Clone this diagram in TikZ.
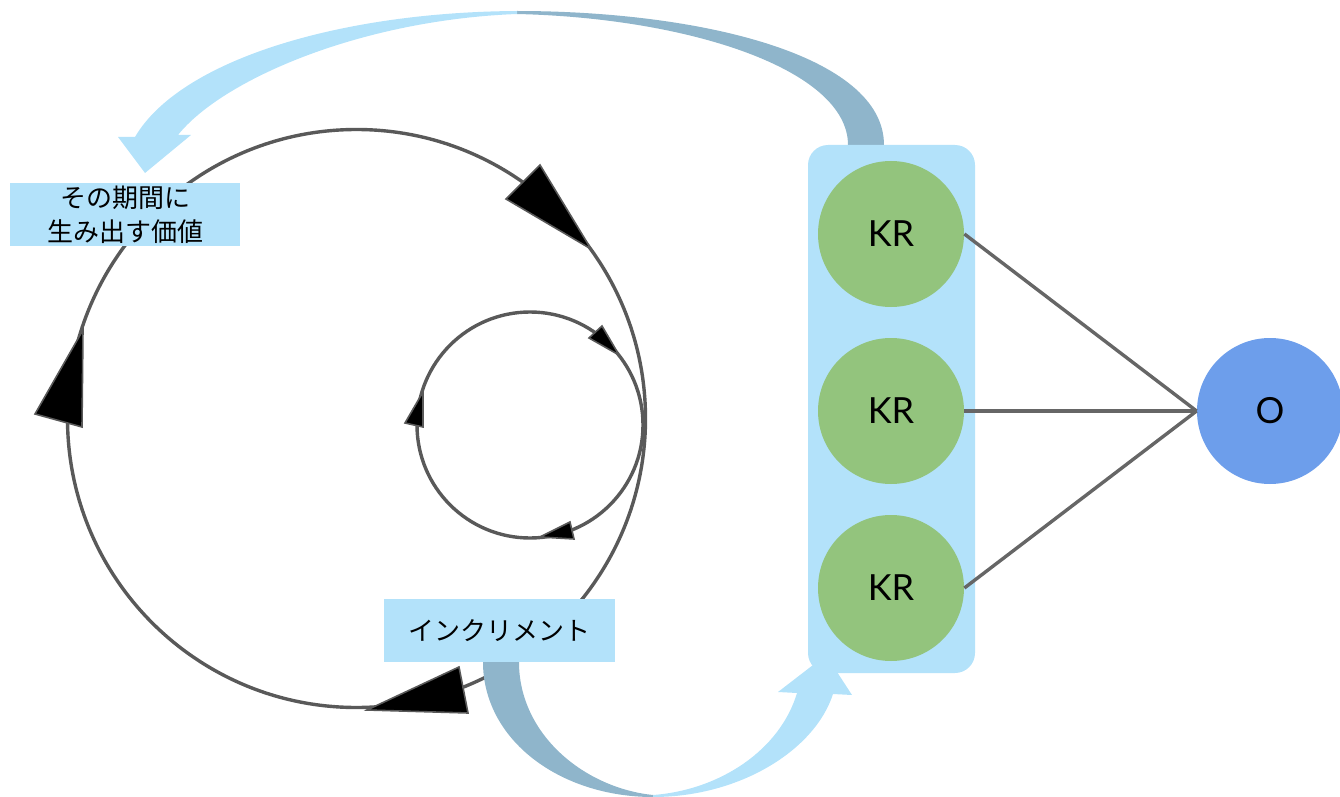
\documentclass[tikz,border=0pt]{standalone}
\usepackage{fontspec}
\setmainfont{Lato}
\newfontfamily\jpfont{Noto Sans CJK JP}

\definecolor{skyfill}{HTML}{B3E2FA}
\definecolor{steelfill}{HTML}{8FB5CB}
\definecolor{krgreen}{HTML}{93C47D}
\definecolor{oblue}{HTML}{6D9EEB}
\definecolor{loopgray}{HTML}{595959}
\definecolor{linkgray}{HTML}{666666}

\begin{document}
\begin{tikzpicture}[x=0.5pt, y=-0.5pt]
  \useasboundingbox (0,0) rectangle (1340,797);

  % the two loops
  \draw [loopgray, line width=1.7pt] (356.5,418.5) circle (144.5pt);
  \draw [loopgray, line width=1.7pt] (530,425) circle (56.5pt);
  \filldraw [fill=black, draw=loopgray, line width=0.8pt] (506,199) -- (540,165) -- (591,249) -- cycle;
  \filldraw [fill=black, draw=loopgray, line width=0.8pt] (35,414) -- (82,427) -- (83,330) -- cycle;
  \filldraw [fill=black, draw=loopgray, line width=0.8pt] (459,667) -- (468,713) -- (367,710) -- cycle;
  \filldraw [fill=black, draw=loopgray, line width=0.8pt] (589,338) -- (602,326) -- (619,355) -- cycle;
  \filldraw [fill=black, draw=loopgray, line width=0.8pt] (405,423) -- (423,427) -- (423,392) -- cycle;
  \filldraw [fill=black, draw=loopgray, line width=0.8pt] (570,522) -- (574,539) -- (540,537) -- cycle;

  % wide arrow over the top
  \fill [steelfill] (884,145) .. controls (884,55) and (700,11) .. (517,11) -- (517,14) .. controls (690,18) and (848,70) .. (848,145) -- cycle;
  \fill [skyfill] (517,11) .. controls (340,12) and (180,60) .. (135,137) -- (118,137) -- (145,173) -- (191,135) -- (178,135) .. controls (222,80) and (360,20) .. (517,14) -- cycle;

  % wide arrow underneath
  \fill [steelfill] (483,662) .. controls (483,740) and (560,797) .. (653,797) -- (653,795) .. controls (585,788) and (519,735) .. (519,662) -- cycle;
  \fill [skyfill] (653,797) .. controls (740,797) and (815,750) .. (833,694) -- (852,695) -- (826,655) -- (778,692) -- (797,693) .. controls (780,750) and (720,790) .. (653,795) -- cycle;

  % labels
  \node [fill=skyfill, minimum width=115pt, minimum height=31.5pt, inner sep=0pt, align=center,
         font=\jpfont\fontsize{13}{17}\selectfont] (value) at (125,214.5) {その期間に\\生み出す価値};
  \node [fill=skyfill, minimum width=115.5pt, minimum height=31.5pt, inner sep=0pt,
         font=\jpfont\fontsize{13}{17}\selectfont] (increment) at (499.5,630.5) {インクリメント};

  % key results and objective
  \node [fill=skyfill, rounded corners=10pt, minimum width=83.5pt, minimum height=264pt, inner sep=0pt] (krbox) at (891.5,409) {};
  \node [circle, fill=krgreen, minimum size=73pt, font=\fontsize{18}{22}\selectfont] (kr1) at (891,234) {KR};
  \node [circle, fill=krgreen, minimum size=73pt, font=\fontsize{18}{22}\selectfont] (kr2) at (891,411) {KR};
  \node [circle, fill=krgreen, minimum size=73pt, font=\fontsize{18}{22}\selectfont] (kr3) at (891,588) {KR};
  \node [circle, fill=oblue, minimum size=73pt, font=\fontsize{18}{22}\selectfont] (obj) at (1270,411) {O};

  \draw [linkgray, line width=1.7pt] (kr1.east) -- (obj.west);
  \draw [linkgray, line width=1.7pt] (kr2.east) -- (obj.west);
  \draw [linkgray, line width=1.7pt] (kr3.east) -- (obj.west);
\end{tikzpicture}
\end{document}
